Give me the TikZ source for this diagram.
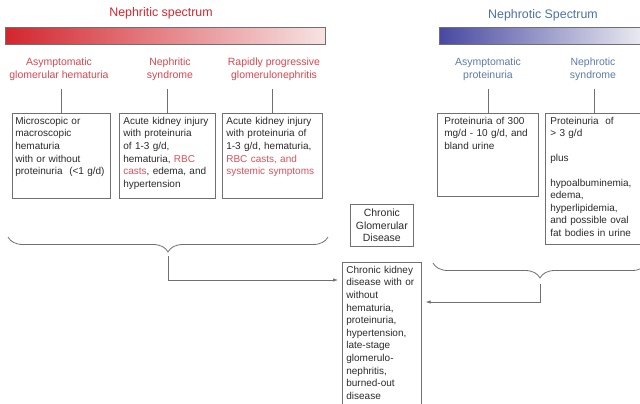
\documentclass[tikz,border=0pt]{standalone}
\usepackage{fontspec}
\setmainfont{Liberation Sans}
\usetikzlibrary{arrows.meta,positioning,calc,decorations.pathreplacing}
\definecolor{ritred}   {HTML}{D3262E}
\definecolor{ritsub}   {HTML}{D8464F}
\definecolor{ritpale}  {HTML}{F7E3E3}
\definecolor{ritmid}   {HTML}{E78286}
\definecolor{rotblue}  {HTML}{4A70A8}
\definecolor{rotsub}   {HTML}{5C7CA6}
\definecolor{rotdeep}  {HTML}{4848A2}
\definecolor{rotmid}   {HTML}{9A9ACB}
\definecolor{rotpale}  {HTML}{EDEDF2}
\definecolor{rbc}      {HTML}{D9505A}
\definecolor{ink}      {HTML}{2A2A2A}
\definecolor{frame}    {HTML}{707070}
\newcommand{\cellfont}{\fontsize{10}{12.6}\selectfont\hyphenpenalty=10000\relax}

\begin{document}
\begin{tikzpicture}[x=1pt,y=-1pt,
    every node/.style={font=\fontsize{10.5}{12.6}\selectfont,text=ink},
    heading/.style={font=\fontsize{12.4}{14}\selectfont,inner sep=1pt},
    subhead/.style={align=center,inner sep=2pt},
    cell/.style={draw=frame,line width=0.7pt,anchor=north west,align=left,
                 font=\cellfont,inner sep=3pt,text height=8pt},
    stem/.style={draw=frame,line width=0.7pt,shorten >=7pt},
    curly/.style={draw=frame,line width=0.8pt,decorate,
                  decoration={brace,amplitude=15pt,mirror}},
    link/.style={draw=frame,line width=0.7pt,-{Latex[length=5pt,width=3.5pt]}}]
  \useasboundingbox (0,0) rectangle (640,404);

  % the two spectra
  \node (ritbar) [draw=frame,line width=0.5pt,anchor=north west,
        left color=ritred,middle color=ritmid,right color=ritpale,
        minimum width=320pt,minimum height=17pt,inner sep=0pt] at (5,27) {};
  \node (rottbar) [draw=frame,line width=0.5pt,anchor=north west,
        left color=rotdeep,middle color=rotmid,right color=rotpale,
        minimum width=206pt,minimum height=17pt,inner sep=0pt] at (439,27) {};
  \node (rittitle) [heading,text=ritred] at (161,13) {Nephritic spectrum};
  \node (rottitle) [heading,text=rotblue] at (543,15) {Nephrotic Spectrum};

  \node (sub1) [subhead,text=ritsub] at (59,69) {Asymptomatic\\glomerular hematuria};
  \node (sub2) [subhead,text=ritsub] at (170,69) {Nephritic\\syndrome};
  \node (sub3) [subhead,text=ritsub] at (274,69) {Rapidly progressive\\glomerulonephritis};
  \node (sub4) [subhead,text=rotsub] at (488,69) {Asymptomatic\\proteinuria};
  \node (sub5) [subhead,text=rotsub] at (593,69) {Nephrotic\\syndrome};

  % findings
  \node (box1) [cell,text width=92pt,text depth=71pt] at (12,113)
    {Microscopic or\\macroscopic\\hematuria\\with or without\\proteinuria~~(<1 g/d)};
  \node (box2) [cell,inner xsep=4pt,text width=88pt,text depth=71pt] at (119,113)
    {Acute kidney injury\\with proteinuria\\of 1-3 g/d,\\hematuria, \textcolor{rbc}{RBC}\\
     \textcolor{rbc}{casts}, edema, and\\hypertension};
  \node (box3) [cell,inner xsep=4pt,text width=92pt,text depth=71pt] at (222,113)
    {Acute kidney injury\\with proteinuria of\\1-3 g/d, hematuria,\\
     \textcolor{rbc}{RBC casts, and}\\\textcolor{rbc}{systemic symptoms}};
  \node (box4) [cell,inner xsep=7pt,text width=87pt,text depth=69pt] at (437,113)
    {Proteinuria of 300\\mg/d - 10 g/d, and\\bland urine};
  \node (box5) [cell,inner xsep=5pt,text width=88pt,text depth=117pt] at (545,113)
    {Proteinuria~ of\\> 3 g/d\\[12pt]plus\\[12pt]hypoalbuminemia,\\edema,\\hyperlipidemia,\\
     and possible oval\\fat bodies in urine};

  \foreach \n in {1,...,5}
    \draw[stem] (box\n.north) -- (box\n.north |- sub\n.south);

  \node (cgd) [draw=frame,line width=0.7pt,anchor=north west,align=center,
        minimum width=63pt,minimum height=42pt,inner sep=2pt] at (350,204)
    {Chronic\\Glomerular\\Disease};
  \node (ckd) [cell,inner xsep=4pt,text width=71pt,text depth=134pt] at (342,262)
    {Chronic kidney\\disease with or\\without\\hematuria,\\proteinuria,\\hypertension,\\
     late-stage\\glomerulo-\\nephritis,\\burned-out\\disease};

  % braces into CKD
  \coordinate (lbA) at (8,237);
  \coordinate (lbB) at (328,237);
  \coordinate (lbr) at ($(lbA)!.5!(lbB)+(0,15)$);
  \coordinate (rbA) at (433,263);
  \coordinate (rbB) at (647,263);
  \coordinate (rbr) at ($(rbA)!.5!(rbB)+(0,15)$);
  \draw[curly] (lbA) -- (lbB);
  \draw[curly] (rbA) -- (rbB);
  \draw[link,shorten <=4pt,shorten >=4pt] (lbr) |- ([yshift=-18pt]ckd.north west);
  \draw[link,shorten <=6pt,shorten >=4pt] (rbr) |- ([yshift=-40pt]ckd.north east);
\end{tikzpicture}
\end{document}
